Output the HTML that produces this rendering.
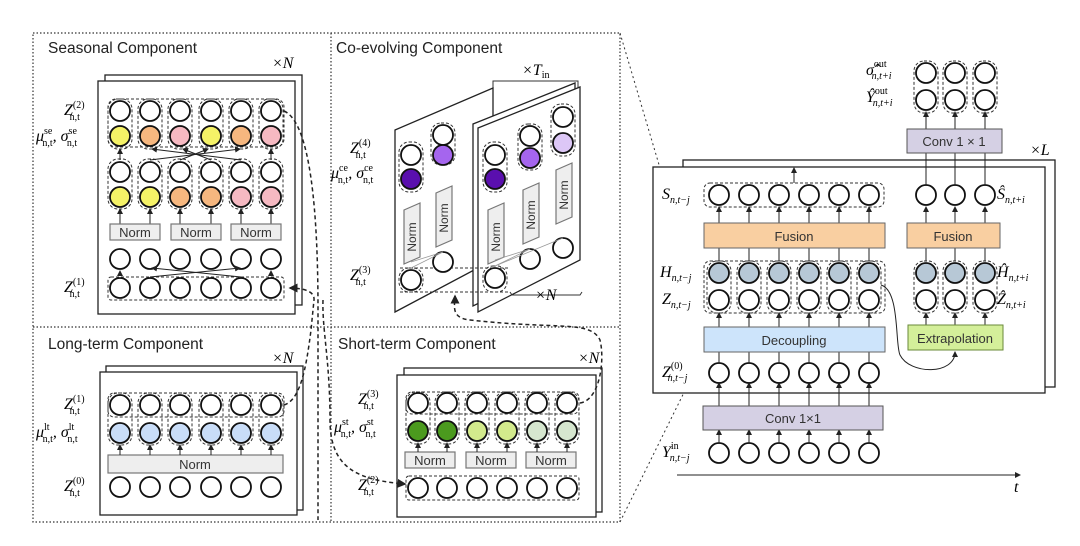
<!DOCTYPE html>
<html><head><meta charset="utf-8"><style>
html,body{margin:0;padding:0;background:#fff}
svg{display:block}
text{font-family:"Liberation Sans",sans-serif}
.m{font-family:"Liberation Serif",serif;font-style:italic;font-size:16px}
.s{font-size:10px;font-style:normal}
.si{font-size:10px}
.t{font-size:15.5px;fill:#222}
.c{fill:#fff;stroke:#111;stroke-width:1.8}
.d{fill:none;stroke:#333;stroke-width:1;stroke-dasharray:3,2}
.f{fill:#fff;stroke:#222;stroke-width:1.3}
.n{fill:#eee;stroke:#777;stroke-width:1.2}
.a{stroke:#222;stroke-width:1;marker-end:url(#ah)}
.nt{font-size:13px;fill:#333;text-anchor:middle}
</style></head><body>
<svg width="1080" height="546" viewBox="0 0 1080 546" xmlns="http://www.w3.org/2000/svg">
<defs>
<marker id="ah" markerWidth="6" markerHeight="6" refX="5" refY="3" orient="auto"><path d="M0,0 L6,3 L0,6 z" fill="#222"/></marker>
</defs>
<rect x="33" y="33" width="587" height="489" fill="none" stroke="#333" stroke-width="1.2" stroke-dasharray="1.5,2"/>
<line x1="331" y1="33" x2="331" y2="522" stroke="#333" stroke-width="1.2" stroke-dasharray="1.5,2"/>
<line x1="33" y1="327" x2="620" y2="327" stroke="#333" stroke-width="1.2" stroke-dasharray="1.5,2"/>
<line x1="620" y1="33" x2="705" y2="320" stroke="#333" stroke-width="1" stroke-dasharray="2,3"/>
<line x1="620" y1="522" x2="705" y2="350" stroke="#333" stroke-width="1" stroke-dasharray="2,3"/>

<!-- Seasonal -->
<text x="48" y="53" class="t">Seasonal Component</text>
<text x="272" y="68" class="m">×N</text>
<rect x="105" y="75" width="197" height="230" class="f"/>
<rect x="98" y="81" width="197" height="233" class="f"/>
<rect x="108" y="99" width="176" height="48" rx="8" class="d"/>
<g class="d">
<rect x="108" y="99" width="24" height="50" rx="10"/><rect x="138" y="99" width="24" height="50" rx="10"/><rect x="168" y="99" width="24" height="50" rx="10"/><rect x="199" y="99" width="24" height="50" rx="10"/><rect x="229" y="99" width="24" height="50" rx="10"/><rect x="259" y="99" width="24" height="50" rx="10"/>
<rect x="108" y="159" width="24" height="50" rx="10"/><rect x="138" y="159" width="24" height="50" rx="10"/><rect x="168" y="159" width="24" height="50" rx="10"/><rect x="199" y="159" width="24" height="50" rx="10"/><rect x="229" y="159" width="24" height="50" rx="10"/><rect x="259" y="159" width="24" height="50" rx="10"/>
<rect x="108" y="277" width="176" height="23" rx="3"/>
</g>
<g class="c">
<circle cx="120" cy="111" r="10"/><circle cx="150" cy="111" r="10"/><circle cx="180" cy="111" r="10"/><circle cx="211" cy="111" r="10"/><circle cx="241" cy="111" r="10"/><circle cx="271" cy="111" r="10"/>
<circle cx="120" cy="136" r="10" fill="#f5f267"/><circle cx="150" cy="136" r="10" fill="#f6b77f"/><circle cx="180" cy="136" r="10" fill="#f6b9c2"/><circle cx="211" cy="136" r="10" fill="#f5f267"/><circle cx="241" cy="136" r="10" fill="#f6b77f"/><circle cx="271" cy="136" r="10" fill="#f6b9c2"/>
<circle cx="120" cy="172" r="10"/><circle cx="150" cy="172" r="10"/><circle cx="180" cy="172" r="10"/><circle cx="211" cy="172" r="10"/><circle cx="241" cy="172" r="10"/><circle cx="271" cy="172" r="10"/>
<circle cx="120" cy="197" r="10" fill="#f5f267"/><circle cx="150" cy="197" r="10" fill="#f5f267"/><circle cx="180" cy="197" r="10" fill="#f6b77f"/><circle cx="211" cy="197" r="10" fill="#f6b77f"/><circle cx="241" cy="197" r="10" fill="#f6b9c2"/><circle cx="271" cy="197" r="10" fill="#f6b9c2"/>
<circle cx="120" cy="259" r="10"/><circle cx="150" cy="259" r="10"/><circle cx="180" cy="259" r="10"/><circle cx="211" cy="259" r="10"/><circle cx="241" cy="259" r="10"/><circle cx="271" cy="259" r="10"/>
<circle cx="120" cy="288" r="10"/><circle cx="150" cy="288" r="10"/><circle cx="180" cy="288" r="10"/><circle cx="211" cy="288" r="10"/><circle cx="241" cy="288" r="10"/><circle cx="271" cy="288" r="10"/>
</g>
<g>
<line x1="150" y1="160" x2="240" y2="149" class="a"/><line x1="241" y1="160" x2="152" y2="149" class="a"/>
<line x1="180" y1="160" x2="208" y2="149" class="a"/><line x1="211" y1="160" x2="183" y2="149" class="a"/>
<line x1="120" y1="160" x2="120" y2="149" class="a"/><line x1="271" y1="160" x2="271" y2="149" class="a"/>
<line x1="120" y1="224" x2="120" y2="209" class="a"/><line x1="150" y1="224" x2="150" y2="209" class="a"/><line x1="180" y1="224" x2="180" y2="209" class="a"/><line x1="211" y1="224" x2="211" y2="209" class="a"/><line x1="241" y1="224" x2="241" y2="209" class="a"/><line x1="271" y1="224" x2="271" y2="209" class="a"/>
<line x1="120" y1="276" x2="120" y2="271" class="a"/><line x1="271" y1="276" x2="271" y2="271" class="a"/>
<line x1="150" y1="277" x2="240" y2="268" class="a"/><line x1="241" y1="277" x2="152" y2="268" class="a"/>
</g>
<rect x="110" y="224" width="50" height="16" class="n"/><rect x="171" y="224" width="50" height="16" class="n"/><rect x="231" y="224" width="50" height="16" class="n"/>
<text x="135" y="237" class="nt">Norm</text><text x="196" y="237" class="nt">Norm</text><text x="256" y="237" class="nt">Norm</text>
<text x="64" y="115" class="m">Z<tspan class="s" dy="-7">(2)</tspan><tspan class="s" dx="-15" dy="12">n,t</tspan></text>
<text x="36" y="141" class="m">μ<tspan class="s" dy="-7">se</tspan><tspan class="s" dx="-10" dy="12">n,t</tspan><tspan dy="-5">, σ</tspan><tspan class="s" dy="-7">se</tspan><tspan class="s" dx="-10" dy="12">n,t</tspan></text>
<text x="64" y="292" class="m">Z<tspan class="s" dy="-7">(1)</tspan><tspan class="s" dx="-15" dy="12">n,t</tspan></text>

<!-- Co-evolving -->
<text x="336" y="53" class="t">Co-evolving Component</text>
<text x="522" y="75" class="m">×T<tspan class="s" dy="3">in</tspan></text>
<path d="M493,88 L493,81 L578,81 L578,88" fill="none" stroke="#333" stroke-width="1"/>
<polygon points="395,130 493,88 493,260 395,312" class="f"/>
<polygon points="473,124 575,83 575,256 473,306" class="f"/>
<polygon points="478,128 580,87 580,260 478,312" class="f"/>
<g class="d">
<rect x="399" y="142" width="24" height="50" rx="10"/><rect x="431" y="123" width="24" height="42" rx="10"/>
<rect x="483" y="142" width="24" height="50" rx="10"/><rect x="518" y="124" width="24" height="46" rx="10"/><rect x="551" y="104" width="24" height="52" rx="10"/>
<path d="M400,268 L510,268 M400,292 L510,292"/>
<rect x="399" y="268" width="24" height="24" rx="10"/><rect x="483" y="266" width="24" height="26" rx="10"/>
</g>
<g class="c">
<circle cx="411" cy="155" r="10"/><circle cx="411" cy="179" r="10" fill="#5a0fae"/>
<circle cx="443" cy="135" r="10"/><circle cx="443" cy="155" r="10" fill="#a565ee"/>
<circle cx="411" cy="280" r="10"/><circle cx="443" cy="262" r="10"/>
<circle cx="495" cy="155" r="10"/><circle cx="495" cy="179" r="10" fill="#5a0fae"/>
<circle cx="530" cy="136" r="10"/><circle cx="530" cy="158" r="10" fill="#a565ee"/>
<circle cx="563" cy="117" r="10"/><circle cx="563" cy="143" r="10" fill="#dcc7f6"/>
<circle cx="495" cy="278" r="10"/><circle cx="530" cy="259" r="10"/><circle cx="563" cy="248" r="10"/>
</g>
<g class="n">
<polygon points="404,210 420,203 420,257 404,264"/><polygon points="436,193 452,186 452,240 436,247"/>
<polygon points="488,210 504,203 504,257 488,264"/><polygon points="523,190 539,183 539,237 523,244"/><polygon points="556,170 572,163 572,217 556,224"/>
</g>
<g font-size="12" fill="#333" text-anchor="middle">
<text transform="translate(416,237) rotate(-90)">Norm</text><text transform="translate(448,218) rotate(-90)">Norm</text>
<text transform="translate(500,237) rotate(-90)">Norm</text><text transform="translate(535,215) rotate(-90)">Norm</text><text transform="translate(568,195) rotate(-90)">Norm</text>
</g>
<g stroke="#999" stroke-width="0.8"><line x1="411" y1="268" x2="443" y2="252"/><line x1="443" y1="252" x2="411" y2="262"/><line x1="495" y1="266" x2="530" y2="249"/><line x1="530" y1="249" x2="495" y2="260"/><line x1="495" y1="266" x2="563" y2="238"/></g>
<path d="M510,292 L512,295 L580,295 L582,292" fill="none" stroke="#333" stroke-width="1"/>
<text x="535" y="300" class="m">×N</text>
<text x="350" y="153" class="m">Z<tspan class="s" dy="-7">(4)</tspan><tspan class="s" dx="-15" dy="12">n,t</tspan></text>
<text x="331" y="178" class="m">μ<tspan class="s" dy="-7">ce</tspan><tspan class="s" dx="-10" dy="12">n,t</tspan><tspan dy="-5">, σ</tspan><tspan class="s" dy="-7">ce</tspan><tspan class="s" dx="-10" dy="12">n,t</tspan></text>
<text x="350" y="280" class="m">Z<tspan class="s" dy="-7">(3)</tspan><tspan class="s" dx="-15" dy="12">n,t</tspan></text>

<!-- Long-term -->
<text x="48" y="349" class="t">Long-term Component</text>
<text x="272" y="363" class="m">×N</text>
<rect x="106" y="366" width="197" height="144" class="f"/>
<rect x="100" y="372" width="197" height="143" class="f"/>
<rect x="108" y="393" width="176" height="24" rx="6" class="d"/>
<g class="d"><rect x="108" y="393" width="24" height="52" rx="10"/><rect x="138" y="393" width="24" height="52" rx="10"/><rect x="168" y="393" width="24" height="52" rx="10"/><rect x="199" y="393" width="24" height="52" rx="10"/><rect x="229" y="393" width="24" height="52" rx="10"/><rect x="259" y="393" width="24" height="52" rx="10"/></g>
<g class="c">
<circle cx="120" cy="405" r="10"/><circle cx="150" cy="405" r="10"/><circle cx="180" cy="405" r="10"/><circle cx="211" cy="405" r="10"/><circle cx="241" cy="405" r="10"/><circle cx="271" cy="405" r="10"/>
<circle cx="120" cy="433" r="10" fill="#c9ddf8"/><circle cx="150" cy="433" r="10" fill="#c9ddf8"/><circle cx="180" cy="433" r="10" fill="#c9ddf8"/><circle cx="211" cy="433" r="10" fill="#c9ddf8"/><circle cx="241" cy="433" r="10" fill="#c9ddf8"/><circle cx="271" cy="433" r="10" fill="#c9ddf8"/>
<circle cx="120" cy="487" r="10"/><circle cx="150" cy="487" r="10"/><circle cx="180" cy="487" r="10"/><circle cx="211" cy="487" r="10"/><circle cx="241" cy="487" r="10"/><circle cx="271" cy="487" r="10"/>
</g>
<rect x="108" y="455" width="175" height="18" class="n"/><text x="195" y="469" class="nt">Norm</text>
<g><line x1="120" y1="455" x2="120" y2="445" class="a"/><line x1="150" y1="455" x2="150" y2="445" class="a"/><line x1="180" y1="455" x2="180" y2="445" class="a"/><line x1="211" y1="455" x2="211" y2="445" class="a"/><line x1="241" y1="455" x2="241" y2="445" class="a"/><line x1="271" y1="455" x2="271" y2="445" class="a"/></g>
<text x="64" y="409" class="m">Z<tspan class="s" dy="-7">(1)</tspan><tspan class="s" dx="-15" dy="12">n,t</tspan></text>
<text x="36" y="437" class="m">μ<tspan class="s" dy="-7">lt</tspan><tspan class="s" dx="-7" dy="12">n,t</tspan><tspan dy="-5">, σ</tspan><tspan class="s" dy="-7">lt</tspan><tspan class="s" dx="-7" dy="12">n,t</tspan></text>
<text x="64" y="491" class="m">Z<tspan class="s" dy="-7">(0)</tspan><tspan class="s" dx="-15" dy="12">n,t</tspan></text>

<!-- Short-term -->
<text x="338" y="349" class="t">Short-term Component</text>
<text x="578" y="363" class="m">×N</text>
<rect x="404" y="368" width="198" height="144" class="f"/>
<rect x="397" y="375" width="199" height="142" class="f"/>
<rect x="406" y="392" width="173" height="22" rx="6" class="d"/>
<rect x="406" y="476" width="173" height="24" rx="3" class="d"/>
<g class="d"><rect x="406" y="392" width="24" height="52" rx="10"/><rect x="435" y="392" width="24" height="52" rx="10"/><rect x="465" y="392" width="24" height="52" rx="10"/><rect x="495" y="392" width="24" height="52" rx="10"/><rect x="525" y="392" width="24" height="52" rx="10"/><rect x="555" y="392" width="24" height="52" rx="10"/></g>
<g class="c">
<circle cx="418" cy="403" r="10"/><circle cx="447" cy="403" r="10"/><circle cx="477" cy="403" r="10"/><circle cx="507" cy="403" r="10"/><circle cx="537" cy="403" r="10"/><circle cx="567" cy="403" r="10"/>
<circle cx="418" cy="431" r="10" fill="#4b9a1e"/><circle cx="447" cy="431" r="10" fill="#4b9a1e"/><circle cx="477" cy="431" r="10" fill="#d3ea8c"/><circle cx="507" cy="431" r="10" fill="#d3ea8c"/><circle cx="537" cy="431" r="10" fill="#d6e6cf"/><circle cx="567" cy="431" r="10" fill="#d6e6cf"/>
<circle cx="418" cy="488" r="10"/><circle cx="447" cy="488" r="10"/><circle cx="477" cy="488" r="10"/><circle cx="507" cy="488" r="10"/><circle cx="537" cy="488" r="10"/><circle cx="567" cy="488" r="10"/>
</g>
<rect x="405" y="452" width="50" height="16" class="n"/><rect x="466" y="452" width="50" height="16" class="n"/><rect x="526" y="452" width="50" height="16" class="n"/>
<text x="430" y="465" class="nt">Norm</text><text x="491" y="465" class="nt">Norm</text><text x="551" y="465" class="nt">Norm</text>
<g><line x1="418" y1="452" x2="418" y2="443" class="a"/><line x1="447" y1="452" x2="447" y2="443" class="a"/><line x1="477" y1="452" x2="477" y2="443" class="a"/><line x1="507" y1="452" x2="507" y2="443" class="a"/><line x1="537" y1="452" x2="537" y2="443" class="a"/><line x1="567" y1="452" x2="567" y2="443" class="a"/></g>
<text x="358" y="404" class="m">Z<tspan class="s" dy="-7">(3)</tspan><tspan class="s" dx="-15" dy="12">n,t</tspan></text>
<text x="334" y="432" class="m">μ<tspan class="s" dy="-7">st</tspan><tspan class="s" dx="-8" dy="12">n,t</tspan><tspan dy="-5">, σ</tspan><tspan class="s" dy="-7">st</tspan><tspan class="s" dx="-8" dy="12">n,t</tspan></text>
<text x="358" y="490" class="m">Z<tspan class="s" dy="-7">(2)</tspan><tspan class="s" dx="-15" dy="12">n,t</tspan></text>

<g fill="none" stroke="#222" stroke-width="1.5" stroke-dasharray="4,3">
<path d="M284,111 C305,120 318,180 318,310 L318,520"/>
<path d="M323,300 C322,330 330,360 330,420 C330,470 360,480 405,484" marker-end="url(#ah)"/>
<path d="M284,405 C300,400 306,370 311,330 L314,300 C315,290 300,288 290,288" marker-end="url(#ah)"/>
<path d="M580,403 C600,400 605,360 600,340 C590,320 560,330 470,320 C450,318 455,305 455,296" marker-end="url(#ah)"/>
</g>

<!-- Right diagram -->
<text x="1030" y="155" class="m">×L</text>
<rect x="683" y="160" width="372" height="227" class="f"/>
<rect x="653" y="167" width="392" height="226" class="f"/>
<rect x="704" y="183" width="180" height="24" rx="6" class="d"/>
<rect x="704" y="261" width="181" height="52" rx="6" class="d"/>
<g class="d">
<rect x="707" y="261" width="24" height="52" rx="10"/><rect x="737" y="261" width="24" height="52" rx="10"/><rect x="767" y="261" width="24" height="52" rx="10"/><rect x="797" y="261" width="24" height="52" rx="10"/><rect x="827" y="261" width="24" height="52" rx="10"/><rect x="857" y="261" width="24" height="52" rx="10"/>
<rect x="914" y="261" width="24" height="52" rx="10"/><rect x="943" y="261" width="24" height="52" rx="10"/><rect x="973" y="261" width="24" height="52" rx="10"/>
<rect x="914" y="61" width="24" height="52" rx="10"/><rect x="943" y="61" width="24" height="52" rx="10"/><rect x="973" y="61" width="24" height="52" rx="10"/>
</g>
<g class="c">
<circle cx="719" cy="195" r="10"/><circle cx="749" cy="195" r="10"/><circle cx="779" cy="195" r="10"/><circle cx="809" cy="195" r="10"/><circle cx="839" cy="195" r="10"/><circle cx="869" cy="195" r="10"/>
<circle cx="719" cy="273" r="10" fill="#b7c8d6"/><circle cx="749" cy="273" r="10" fill="#b7c8d6"/><circle cx="779" cy="273" r="10" fill="#b7c8d6"/><circle cx="809" cy="273" r="10" fill="#b7c8d6"/><circle cx="839" cy="273" r="10" fill="#b7c8d6"/><circle cx="869" cy="273" r="10" fill="#b7c8d6"/>
<circle cx="719" cy="300" r="10"/><circle cx="749" cy="300" r="10"/><circle cx="779" cy="300" r="10"/><circle cx="809" cy="300" r="10"/><circle cx="839" cy="300" r="10"/><circle cx="869" cy="300" r="10"/>
<circle cx="719" cy="373" r="10"/><circle cx="749" cy="373" r="10"/><circle cx="779" cy="373" r="10"/><circle cx="809" cy="373" r="10"/><circle cx="839" cy="373" r="10"/><circle cx="869" cy="373" r="10"/>
<circle cx="719" cy="453" r="10"/><circle cx="749" cy="453" r="10"/><circle cx="779" cy="453" r="10"/><circle cx="809" cy="453" r="10"/><circle cx="839" cy="453" r="10"/><circle cx="869" cy="453" r="10"/>
<circle cx="926" cy="73" r="10"/><circle cx="955" cy="73" r="10"/><circle cx="985" cy="73" r="10"/>
<circle cx="926" cy="100" r="10"/><circle cx="955" cy="100" r="10"/><circle cx="985" cy="100" r="10"/>
<circle cx="926" cy="195" r="10"/><circle cx="955" cy="195" r="10"/><circle cx="985" cy="195" r="10"/>
<circle cx="926" cy="273" r="10" fill="#b7c8d6"/><circle cx="955" cy="273" r="10" fill="#b7c8d6"/><circle cx="985" cy="273" r="10" fill="#b7c8d6"/>
<circle cx="926" cy="300" r="10"/><circle cx="955" cy="300" r="10"/><circle cx="985" cy="300" r="10"/>
</g>
<g>
<line x1="719" y1="223" x2="719" y2="207" class="a"/><line x1="749" y1="223" x2="749" y2="207" class="a"/><line x1="779" y1="223" x2="779" y2="207" class="a"/><line x1="809" y1="223" x2="809" y2="207" class="a"/><line x1="839" y1="223" x2="839" y2="207" class="a"/><line x1="869" y1="223" x2="869" y2="207" class="a"/>
<line x1="719" y1="261" x2="719" y2="248" stroke="#222"/><line x1="749" y1="261" x2="749" y2="248" stroke="#222"/><line x1="779" y1="261" x2="779" y2="248" stroke="#222"/><line x1="809" y1="261" x2="809" y2="248" stroke="#222"/><line x1="839" y1="261" x2="839" y2="248" stroke="#222"/><line x1="869" y1="261" x2="869" y2="248" stroke="#222"/>
<line x1="719" y1="327" x2="719" y2="313" class="a"/><line x1="749" y1="327" x2="749" y2="313" class="a"/><line x1="779" y1="327" x2="779" y2="313" class="a"/><line x1="809" y1="327" x2="809" y2="313" class="a"/><line x1="839" y1="327" x2="839" y2="313" class="a"/><line x1="869" y1="327" x2="869" y2="313" class="a"/>
<line x1="719" y1="363" x2="719" y2="352" stroke="#222"/><line x1="749" y1="363" x2="749" y2="352" stroke="#222"/><line x1="779" y1="363" x2="779" y2="352" stroke="#222"/><line x1="809" y1="363" x2="809" y2="352" stroke="#222"/><line x1="839" y1="363" x2="839" y2="352" stroke="#222"/><line x1="869" y1="363" x2="869" y2="352" stroke="#222"/>
<line x1="719" y1="406" x2="719" y2="383" class="a"/><line x1="749" y1="406" x2="749" y2="383" class="a"/><line x1="779" y1="406" x2="779" y2="383" class="a"/><line x1="809" y1="406" x2="809" y2="383" class="a"/><line x1="839" y1="406" x2="839" y2="383" class="a"/><line x1="869" y1="406" x2="869" y2="383" class="a"/>
<line x1="719" y1="443" x2="719" y2="430" class="a"/><line x1="749" y1="443" x2="749" y2="430" class="a"/><line x1="779" y1="443" x2="779" y2="430" class="a"/><line x1="809" y1="443" x2="809" y2="430" class="a"/><line x1="839" y1="443" x2="839" y2="430" class="a"/><line x1="869" y1="443" x2="869" y2="430" class="a"/>
<line x1="794" y1="183" x2="794" y2="168" class="a"/>
<line x1="926" y1="223" x2="926" y2="207" class="a"/><line x1="955" y1="223" x2="955" y2="207" class="a"/><line x1="985" y1="223" x2="985" y2="207" class="a"/>
<line x1="926" y1="261" x2="926" y2="248" stroke="#222"/><line x1="955" y1="261" x2="955" y2="248" stroke="#222"/><line x1="985" y1="261" x2="985" y2="248" stroke="#222"/>
<line x1="926" y1="325" x2="926" y2="313" class="a"/><line x1="955" y1="325" x2="955" y2="313" class="a"/><line x1="985" y1="325" x2="985" y2="313" class="a"/>
<line x1="926" y1="185" x2="926" y2="153" stroke="#222"/><line x1="955" y1="185" x2="955" y2="153" stroke="#222"/><line x1="985" y1="185" x2="985" y2="153" stroke="#222"/>
<line x1="926" y1="129" x2="926" y2="112" class="a"/><line x1="955" y1="129" x2="955" y2="112" class="a"/><line x1="985" y1="129" x2="985" y2="112" class="a"/>
<line x1="677" y1="475" x2="1020" y2="475" class="a"/>
<path d="M881,285 C900,290 895,345 900,355 C910,375 955,375 955,352" fill="none" stroke="#222" stroke-width="1" marker-end="url(#ah)"/>
</g>
<rect x="704" y="223" width="181" height="25" fill="#f9cfa1" stroke="#666"/><text x="794" y="241" class="nt" fill="#333">Fusion</text>
<rect x="704" y="327" width="181" height="25" fill="#cde4fb" stroke="#666"/><text x="794" y="345" class="nt">Decoupling</text>
<rect x="703" y="406" width="180" height="24" fill="#d5d0e4" stroke="#555"/><text x="793" y="423" class="nt">Conv 1×1</text>
<rect x="907" y="223" width="93" height="25" fill="#f9cfa1" stroke="#666"/><text x="953" y="241" class="nt">Fusion</text>
<rect x="907" y="129" width="95" height="24" fill="#d5d0e4" stroke="#555"/><text x="954" y="146" class="nt">Conv 1 × 1</text>
<rect x="908" y="325" width="95" height="25" fill="#d4ef9a" stroke="#6a8a3a"/><text x="955" y="343" class="nt">Extrapolation</text>
<text x="1014" y="492" class="m">t</text>
<text x="662" y="199" class="m">S<tspan class="si" dy="4">n,t−j</tspan></text>
<text x="660" y="277" class="m">H<tspan class="si" dy="4">n,t−j</tspan></text>
<text x="662" y="304" class="m">Z<tspan class="si" dy="4">n,t−j</tspan></text>
<text x="662" y="377" class="m">Z<tspan class="s" dy="-8">(0)</tspan><tspan class="si" dx="-15" dy="12">n,t−j</tspan></text>
<text x="662" y="457" class="m">Y<tspan class="s" dy="-8">in</tspan><tspan class="si" dx="-9" dy="12">n,t−j</tspan></text>
<text x="866" y="75" class="m">σ̂<tspan class="s" dy="-8">out</tspan><tspan class="si" dx="-15" dy="12">n,t+i</tspan></text>
<text x="866" y="102" class="m">Ŷ<tspan class="s" dy="-8">out</tspan><tspan class="si" dx="-15" dy="12">n,t+i</tspan></text>
<text x="997" y="199" class="m">Ŝ<tspan class="si" dy="4">n,t+i</tspan></text>
<text x="997" y="277" class="m">Ĥ<tspan class="si" dy="4">n,t+i</tspan></text>
<text x="997" y="304" class="m">Ẑ<tspan class="si" dy="4">n,t+i</tspan></text>
</svg>
</body></html>
